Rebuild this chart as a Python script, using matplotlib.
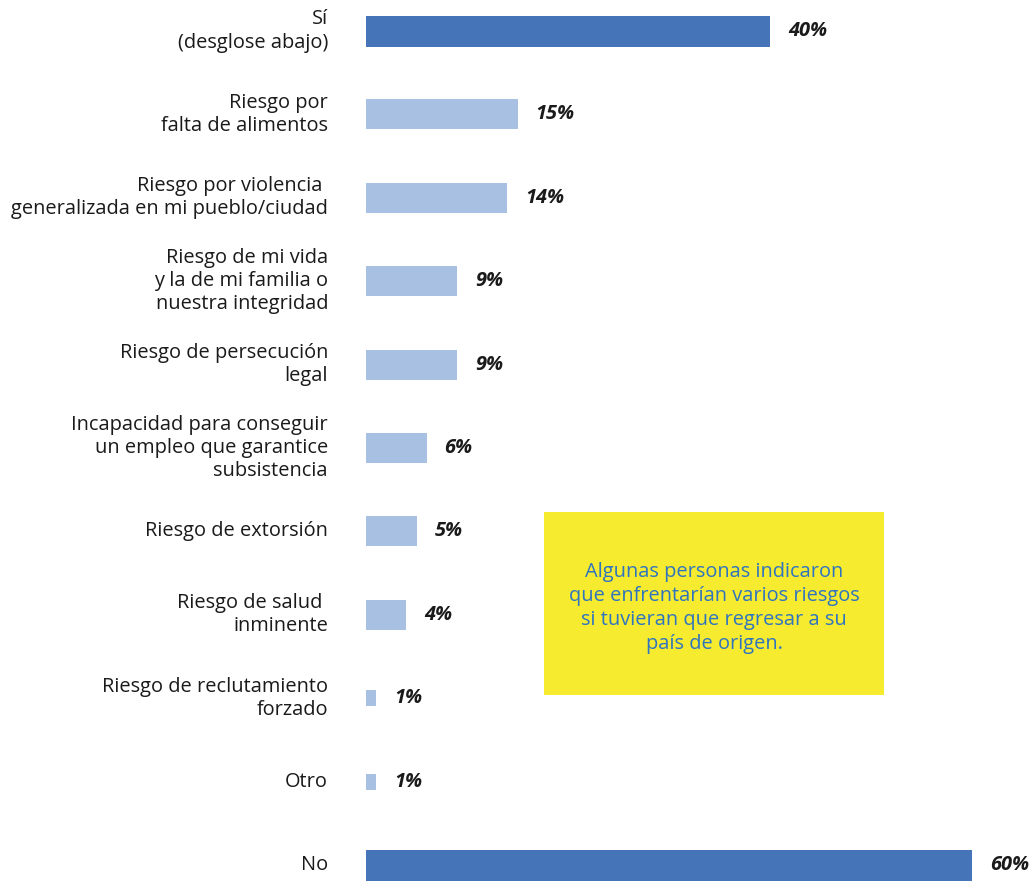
import matplotlib
matplotlib.use("Agg")
import matplotlib.pyplot as plt
from matplotlib.patches import Rectangle

categories = [
    "Sí\n(desglose abajo)",
    "Riesgo por\nfalta de alimentos",
    "Riesgo por violencia \ngeneralizada en mi pueblo/ciudad",
    "Riesgo de mi vida\ny la de mi familia o\nnuestra integridad",
    "Riesgo de persecución\nlegal",
    "Incapacidad para conseguir\nun empleo que garantice\nsubsistencia",
    "Riesgo de extorsión",
    "Riesgo de salud \ninminente",
    "Riesgo de reclutamiento\nforzado",
    "Otro",
    "No",
]
values = [40, 15, 14, 9, 9, 6, 5, 4, 1, 1, 60]
value_labels = ["40%", "15%", "14%", "9%", "9%", "6%", "5%", "4%", "1%", "1%", "60%"]
is_main = [True, False, False, False, False, False, False, False, False, False, True]
note_text = ("Algunas personas indicaron\nque enfrentarían varios riesgos\n"
             "si tuvieran que regresar a su\npaís de origen.")

DARK = "#4574B9"
LIGHT = "#A8C0E2"
YELLOW = "#F6EB2F"
NOTE_BLUE = "#2F74BF"
TEXT = "#1a1a1a"
FONT = ["Open Sans", "DejaVu Sans"]
FS = 14.4

W, H = 1030, 882
fig = plt.figure(figsize=(W / 100, H / 100), dpi=100)
ax_left = 366 / W
ax = fig.add_axes([ax_left, 0, 1 - ax_left, 1])
px_per_unit = 10.1
ax.set_xlim(0, (W - 366) / px_per_unit)
spacing = (865 - 31) / 10
ax.set_ylim(10 + (H - 865) / spacing, -31 / spacing)
ax.axis("off")

for i, (cat, v, lab, main) in enumerate(zip(categories, values, value_labels, is_main)):
    h = (31 if main else (16 if v <= 1 else 30)) / spacing
    ax.barh(i, v, height=h, color=DARK if main else LIGHT, edgecolor="none")
    ax.annotate(cat, xy=(0, i), xytext=(-38 * 0.72, 0), textcoords="offset points",
                ha="right", va="center", fontsize=FS, color=TEXT, family=FONT,
                linespacing=1.22)
    ax.annotate(lab, xy=(v, i), xytext=(18 * 0.72, 0), textcoords="offset points",
                ha="left", va="center", fontsize=FS, color=TEXT, family=FONT,
                fontweight="bold", fontstyle="italic")

fig.patches.append(Rectangle((544 / W, 1 - 695 / H), 340 / W, 183 / H,
                             transform=fig.transFigure, facecolor=YELLOW,
                             edgecolor="none", zorder=0))
fig.text(714 / W, 1 - 608 / H, note_text, ha="center", va="center",
         fontsize=FS, color=NOTE_BLUE, family=FONT, linespacing=1.25)

fig.savefig("out.png", dpi=100)
